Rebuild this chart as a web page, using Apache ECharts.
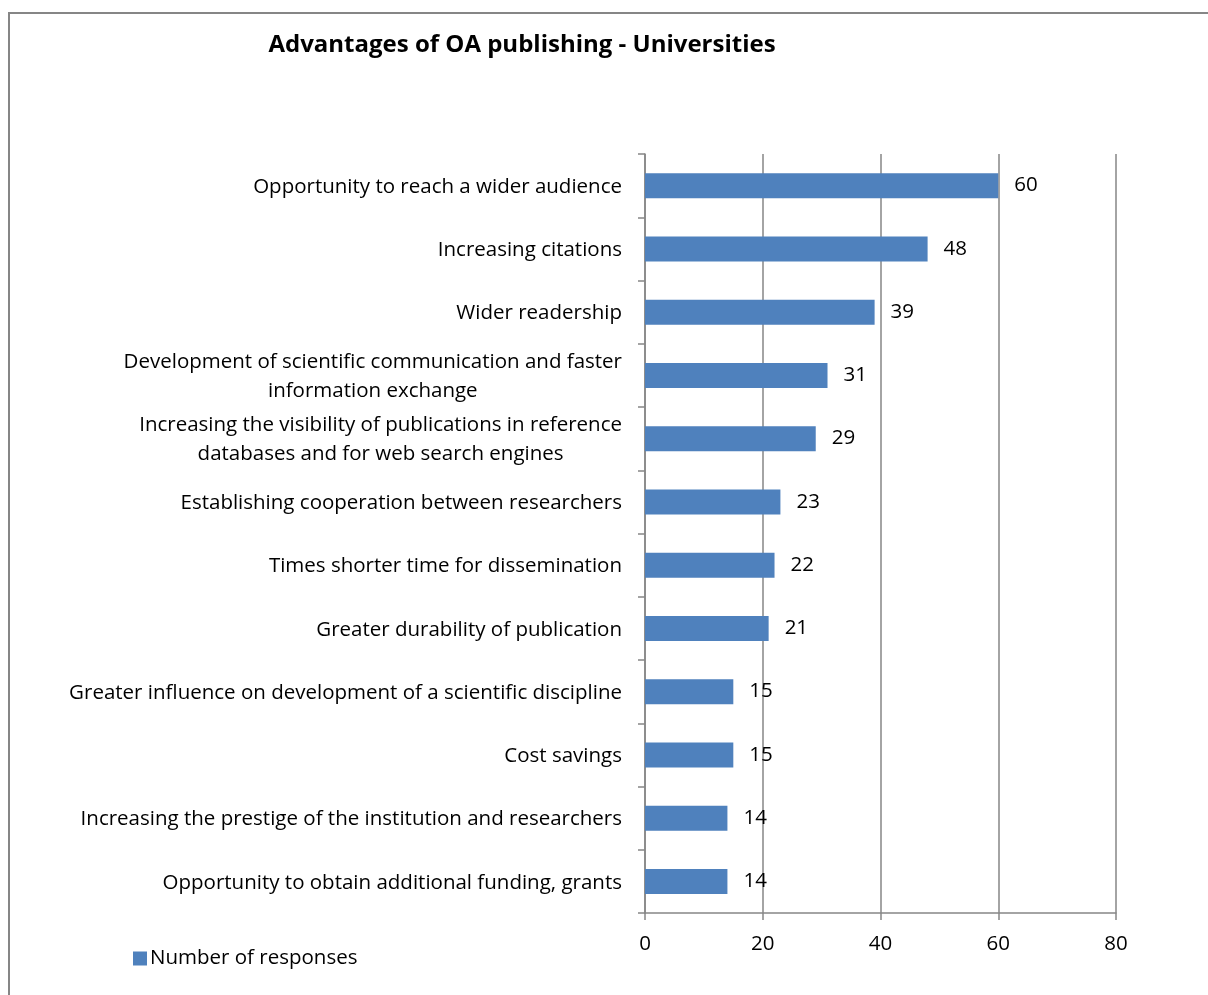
<!DOCTYPE html>
<html>
<head>
<meta charset="utf-8">
<script src="https://cdn.jsdelivr.net/npm/echarts@6/dist/echarts.min.js"></script>
<style>
  html, body { margin: 0; padding: 0; background: #fff; }
  #chart { width: 1208px; height: 995px; }
</style>
</head>
<body>
<div id="chart"></div>
<script>
// ============================================================
// Data
// ============================================================
var TITLE = 'Advantages of OA publishing - Universities';
var SERIES_NAME = 'Number of responses';
var CATEGORIES = [
  'Opportunity to reach a wider audience',
  'Increasing citations',
  'Wider readership',
  'Development of scientific communication and faster\ninformation exchange',
  'Increasing the visibility of publications in reference\ndatabases and for web search engines',
  'Establishing cooperation between researchers',
  'Times shorter time for dissemination',
  'Greater durability of publication',
  'Greater influence on development of a scientific discipline',
  'Cost savings',
  'Increasing the prestige of the institution and researchers',
  'Opportunity to obtain additional funding, grants'
];
var VALUES = [60, 48, 39, 31, 29, 23, 22, 21, 15, 15, 14, 14];
var X_TICKS = [0, 20, 40, 60, 80];

var BAR_COLOR = '#4F81BD';
var GRID_COLOR = '#868686';
var FONT = 'Open Sans';
var FS = 20.5;

var chart = echarts.init(document.getElementById('chart'));

chart.setOption({
  animation: false,
  textStyle: { fontFamily: FONT },
  title: {
    text: TITLE,
    left: 517,
    top: 28,
    textAlign: 'center',
    textStyle: { fontFamily: FONT, fontSize: 24, fontWeight: 'bold', color: '#000' }
  },
  graphic: [{
    type: 'rect',
    shape: { x: 9, y: 13, width: 1400, height: 1200 },
    style: { fill: 'none', stroke: GRID_COLOR, lineWidth: 2 },
    silent: true,
    z: -1
  }],
  legend: {
    left: 128,
    top: 943,
    itemWidth: 14,
    itemHeight: 14,
    itemGap: 10,
    icon: 'rect',
    textStyle: { fontFamily: FONT, fontSize: FS, color: '#000', padding: [0, 0, 0, -2] },
    data: [SERIES_NAME]
  },
  grid: { left: 645, right: 92, top: 154, bottom: 82, containLabel: false },
  xAxis: {
    type: 'value',
    min: X_TICKS[0],
    max: X_TICKS[X_TICKS.length - 1],
    interval: 20,
    axisLine: { show: true, lineStyle: { color: GRID_COLOR, width: 1.5 } },
    axisTick: { show: true, length: 7, lineStyle: { color: GRID_COLOR, width: 1.5 } },
    axisLabel: { margin: 21, fontFamily: FONT, fontSize: FS, color: '#000' },
    splitLine: { show: true, lineStyle: { color: GRID_COLOR, width: 1.5 } }
  },
  yAxis: {
    type: 'category',
    inverse: true,
    data: CATEGORIES,
    axisLine: { show: true, lineStyle: { color: GRID_COLOR, width: 1.5 } },
    axisTick: { show: true, length: 7, lineStyle: { color: GRID_COLOR, width: 1.5 } },
    axisLabel: {
      margin: 23,
      fontFamily: FONT,
      fontSize: FS,
      color: '#000',
      lineHeight: 29,
      padding: [3, 0, 0, 0],
      formatter: function (v) {
        return v.split('\n').map(function (s) { return '{c|' + s + '}'; }).join('\n');
      },
      rich: {
        c: { align: 'center', fontFamily: FONT, fontSize: FS, color: '#000', lineHeight: 29 }
      }
    }
  },
  series: [{
    name: SERIES_NAME,
    type: 'bar',
    data: VALUES,
    barWidth: 25,
    itemStyle: { color: BAR_COLOR },
    label: {
      show: true,
      position: 'right',
      distance: 16,
      fontFamily: FONT,
      fontSize: FS,
      color: '#000'
    }
  }]
});
</script>
</body>
</html>
